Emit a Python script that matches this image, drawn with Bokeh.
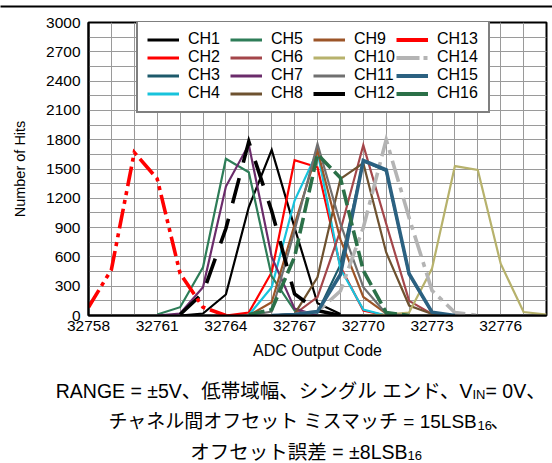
from bokeh.plotting import figure
from bokeh.models import FixedTicker, Legend, LegendItem, Range1d
from bokeh.layouts import column
from bokeh.core.properties import value
from bokeh.embed import file_html
from bokeh.resources import INLINE

# ---------------- data (ADC output code histograms) ----------------
ch1_x = list(range(32762, 32770)); ch1_y = [0, 20, 215, 1110, 1696, 900, 126, 15]
ch2_x = list(range(32764, 32772)); ch2_y = [0, 30, 443, 1590, 1518, 500, 51, 0]
ch3_x = list(range(32767, 32775)); ch3_y = [0, 30, 520, 1580, 1480, 420, 30, 0]
ch4_x = list(range(32765, 32772)); ch4_y = [5, 290, 1177, 1680, 480, 60, 0]
ch5_x = list(range(32761, 32769)); ch5_y = [10, 85, 494, 1604, 1467, 400, 50, 0]
ch6_x = list(range(32766, 32775)); ch6_y = [0, 15, 188, 870, 1745, 940, 150, 15, 0]
ch7_x = list(range(32761, 32769)); ch7_y = [0, 20, 290, 1320, 1750, 600, 70, 0]
ch8_x = list(range(32766, 32775)); ch8_y = [0, 17, 392, 1399, 1560, 645, 102, 15, 0]
ch9_x = list(range(32765, 32773)); ch9_y = [0, 136, 930, 1690, 780, 190, 20, 0]
ch10_x = list(range(32770, 32779)); ch10_y = [0, 10, 30, 480, 1530, 1490, 530, 35, 10]
ch11_x = list(range(32765, 32773)); ch11_y = [0, 40, 870, 1757, 940, 290, 17, 0]
ch12_x = list(range(32762, 32770)); ch12_y = [10, 230, 890, 1780, 1070, 220, 50, 0]
ch13_x = list(range(32758, 32765)); ch13_y = [85, 470, 1670, 1400, 430, 85, 0]
ch14_x = list(range(32767, 32776)); ch14_y = [10, 40, 250, 900, 1800, 1000, 256, 30, 0]
ch15_x = list(range(32766, 32775)); ch15_y = [0, 10, 40, 420, 1587, 1491, 427, 34, 0]
ch16_x = list(range(32765, 32773)); ch16_y = [10, 60, 600, 1650, 1410, 460, 30, 0]

channel_names = ["CH%d" % i for i in range(1, 17)]
channel_x = [ch1_x, ch2_x, ch3_x, ch4_x, ch5_x, ch6_x, ch7_x, ch8_x,
             ch9_x, ch10_x, ch11_x, ch12_x, ch13_x, ch14_x, ch15_x, ch16_x]
channel_y = [ch1_y, ch2_y, ch3_y, ch4_y, ch5_y, ch6_y, ch7_y, ch8_y,
             ch9_y, ch10_y, ch11_y, ch12_y, ch13_y, ch14_y, ch15_y, ch16_y]

x_ticks = [32758, 32761, 32764, 32767, 32770, 32773, 32776]
x_minor = list(range(32758, 32779))
y_ticks = [0, 300, 600, 900, 1200, 1500, 1800, 2100, 2400, 2700, 3000]
y_minor = list(range(0, 3001, 150))

x_title = "ADC Output Code"
y_title = "Number of Hits"
caption_1 = ["RANGE = ±5V、低帯域幅、シングル エンド、V", "IN", " = 0V、"]
caption_2 = ["チャネル間オフセット ミスマッチ = 15LSB", "16", "、"]
caption_3 = ["オフセット誤差 = ±8LSB", "16", ""]

# ---------------- styles ----------------
colors = ["#000000", "#ff0000", "#1d5a6b", "#18c3dc", "#2e7d58", "#a4464a",
          "#6b2c6b", "#6e5230", "#9c5528", "#b7b26c", "#707070", "#000000",
          "#ff0000", "#b4b4b4", "#2b6181", "#2b7048"]
widths = [2.2] * 11 + [3.6, 3.6, 3.6, 3.6, 3.6]
dashes = ["solid"] * 11 + ["26 16", "20 5 4 5 4 5", "22 6 5 6", "solid", "16 5"]
legend_dashes = ["solid"] * 13 + ["23 4 4 4", "solid", "solid"]

FONT = "Liberation Sans"
W = 552
TOP_H, MAIN_H, CAP_H = 12, 351, 100
FL, FR, FT, FB = 88, 546, 22, 315      # frame edges in page pixels
X0, X1, Y0, Y1 = 32758, 32778, 0, 3000


def strip(height, top_border=0, bottom_border=0):
    f = figure(width=W, height=height, x_range=Range1d(0, W), y_range=Range1d(height, 0),
               toolbar_location=None, output_backend="svg", title=None,
               min_border_left=0, min_border_right=0,
               min_border_top=top_border, min_border_bottom=bottom_border,
               x_axis_location=None, y_axis_location=None)
    f.frame_align = False
    f.grid.visible = False
    f.outline_line_color = None
    f.background_fill_color = "white"
    f.border_fill_color = "white"
    return f


# ---------------- top rule (a 2px black frame band) ----------------
top = strip(TOP_H, top_border=5, bottom_border=TOP_H - 7)
top.background_fill_color = "black"

# ---------------- chart ----------------
p = figure(width=W, height=MAIN_H, x_range=Range1d(X0, X1), y_range=Range1d(Y0, Y1),
           toolbar_location=None, output_backend="svg", title=None,
           min_border_left=FL, min_border_right=W - FR, min_border_top=FT - TOP_H,
           min_border_bottom=TOP_H + MAIN_H - FB)
p.frame_align = False
p.background_fill_color = "white"
p.border_fill_color = "white"
p.outline_line_color = "black"
p.outline_line_width = 2

for xs, ys, c, w, d in zip(channel_x, channel_y, colors, widths, dashes):
    p.line(xs, ys, line_color=c, line_width=w, line_dash=d, line_join="miter")

nan = float("nan")
items = []
for name, c, w, d in zip(channel_names, colors, widths, legend_dashes):
    r = p.line([nan], [nan], line_color=c, line_width=w + 0.6, line_dash=d)
    items.append(LegendItem(label=name, renderers=[r]))

legend = Legend(items=items, location=(48, 202), orientation="vertical", nrows=4,
                label_text_font=FONT, label_text_font_size="16px", label_text_color="black",
                label_text_line_height=1.0,
                glyph_width=32, glyph_height=17, label_height=17, label_standoff=9, spacing=0,
                label_width=42, padding=9, margin=0,
                border_line_color="black", border_line_width=2,
                background_fill_color="white", background_fill_alpha=1.0)
p.add_layout(legend)

for ax in (p.xaxis, p.yaxis):
    ax.axis_line_color = "black"
    ax.axis_line_width = 2
    ax.major_tick_line_color = None
    ax.minor_tick_line_color = None
    ax.major_tick_out = 0
    ax.major_tick_in = 0
    ax.minor_tick_out = 0
    ax.major_label_text_font = FONT
    ax.major_label_text_font_size = "15.5px"
    ax.major_label_text_color = "black"
    ax.axis_label_text_font = FONT
    ax.axis_label_text_font_style = "normal"
    ax.axis_label_text_color = "black"

p.xaxis.ticker = FixedTicker(ticks=x_ticks, minor_ticks=x_minor)
p.yaxis.ticker = FixedTicker(ticks=y_ticks, minor_ticks=y_minor)
p.xaxis.axis_label = x_title
p.yaxis.axis_label = y_title
p.xaxis.axis_label_text_font_size = "16px"
p.yaxis.axis_label_text_font_size = "14.5px"
p.xaxis.major_label_standoff = 5
p.yaxis.major_label_standoff = 8
p.xaxis.axis_label_standoff = 8
p.yaxis.axis_label_standoff = 15

grid_col = "#9a9a9a"
for g in (p.xgrid, p.ygrid):
    g.grid_line_color = grid_col
    g.grid_line_width = 1
    g.minor_grid_line_color = grid_col
    g.minor_grid_line_width = 1

# ---------------- caption: a pixel-space strip under the chart ----------------
cap = strip(CAP_H)
CAP_TOP = TOP_H + MAIN_H
CAP_FONT = value("'Liberation Sans', 'Noto Sans CJK JP'")
# (subscript start x, baseline y, subscript width, main font size), page pixels
cap_layout = [(472, 390, 13, "19.5px"), (477, 421, 13, "19px"), (407, 451, 13, "19.5px")]
for (sx, by, sw, fs), parts in zip(cap_layout, [caption_1, caption_2, caption_3]):
    yb = by - CAP_TOP
    cap.text(x=[sx], y=[yb], text=[parts[0]], text_align="right", text_baseline="alphabetic",
             text_font=CAP_FONT, text_font_size=fs, text_color="black")
    cap.text(x=[sx], y=[yb + 3.5], text=[parts[1]], text_align="left", text_baseline="alphabetic",
             text_font=CAP_FONT, text_font_size="13px", text_color="black")
    if parts[2]:
        cap.text(x=[sx + sw], y=[yb], text=[parts[2]], text_align="left", text_baseline="alphabetic",
                 text_font=CAP_FONT, text_font_size=fs, text_color="black")

layout = column(top, p, cap, spacing=0)
open("out.html", "w").write(file_html(layout, INLINE))
